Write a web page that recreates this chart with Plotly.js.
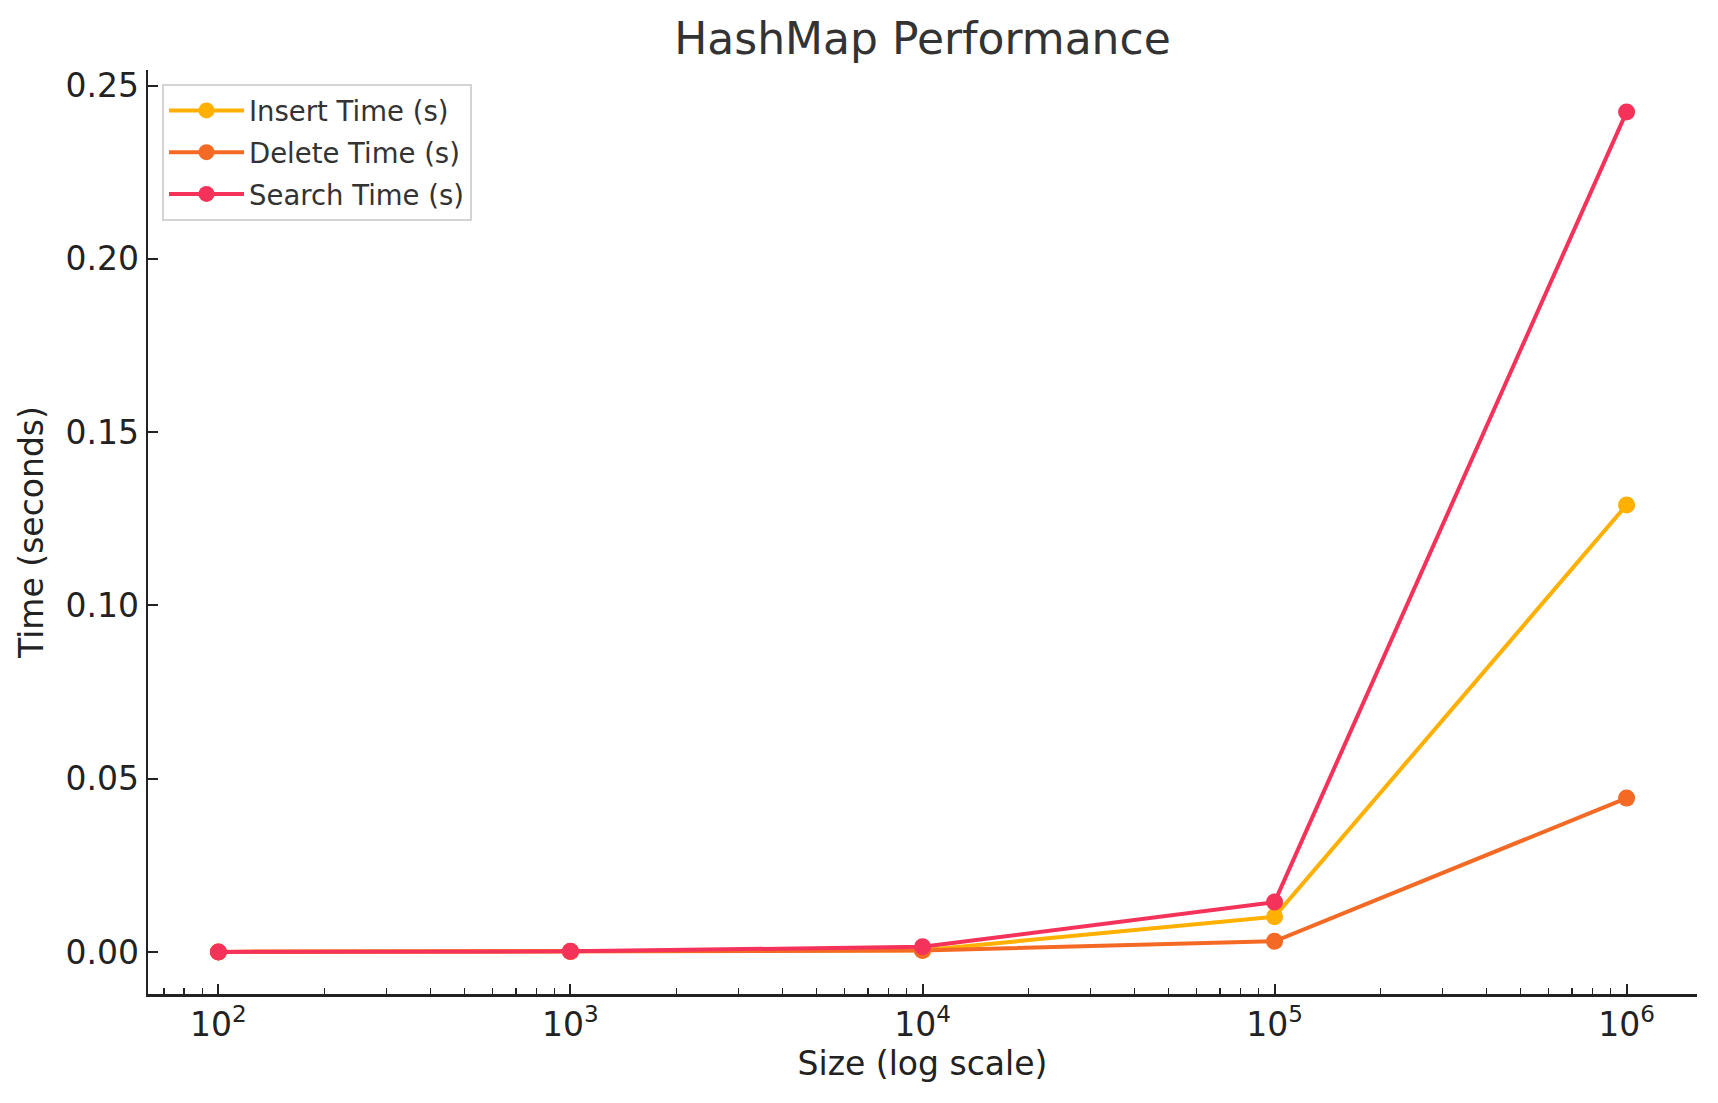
<!DOCTYPE html>
<html>
<head>
<meta charset="utf-8">
<script src="https://cdn.plot.ly/plotly-3.0.1.min.js"></script>
<style>
  html, body { margin: 0; padding: 0; background: #ffffff; }
  #chart { width: 1718px; height: 1103px; }
</style>
</head>
<body>
<div id="chart"></div>
<script>
// ---- Data ----
const sizes = [100, 1000, 10000, 100000, 1000000];
const insertTime = [0.00002, 0.00015, 0.0005, 0.0102, 0.1290];
const deleteTime = [0.00002, 0.00012, 0.0004, 0.0031, 0.0444];
const searchTime = [0.00003, 0.00018, 0.0015, 0.0144, 0.2424];
const seriesNames = ["Insert Time (s)", "Delete Time (s)", "Search Time (s)"];
const seriesColors = ["#FFB000", "#F46A24", "#F5325A"];
const xTickVals = [100, 1000, 10000, 100000, 1000000];
const xTickText = ["10<sup>2</sup>", "10<sup>3</sup>", "10<sup>4</sup>", "10<sup>5</sup>", "10<sup>6</sup>"];

// minor tick positions (2..9 per decade) for the log axis
const minorVals = [];
for (let e = 1; e <= 6; e++) {
  for (let m = 2; m <= 9; m++) minorVals.push(m * Math.pow(10, e));
}

const seriesData = [insertTime, deleteTime, searchTime];
const traces = seriesData.map((ys, i) => ({
  type: "scatter",
  mode: "lines+markers",
  x: sizes,
  y: ys,
  name: seriesNames[i],
  legendgroup: "g" + i,
  line: { color: seriesColors[i], width: 4 },
  marker: { color: seriesColors[i], size: 17 }
}));

const fontFamily = "DejaVu Sans, sans-serif";

const layout = {
  width: 1718,
  height: 1103,
  paper_bgcolor: "#ffffff",
  plot_bgcolor: "#ffffff",
  margin: { l: 148, r: 21, t: 70, b: 109, pad: 0 },
  title: {
    text: "HashMap Performance",
    font: { family: fontFamily, size: 44, color: "#333333" },
    x: 0.5, xref: "paper", xanchor: "center",
    y: 1 - 39 / 1103, yref: "container", yanchor: "middle"
  },
  xaxis: {
    type: "log",
    range: [1.8, 6.2],
    tickvals: xTickVals,
    ticktext: xTickText,
    ticks: "inside",
    ticklen: 10,
    tickwidth: 2,
    tickcolor: "#222222",
    showline: true,
    linecolor: "#222222",
    linewidth: 2.5,
    showgrid: false,
    zeroline: false,
    tickfont: { family: fontFamily, size: 33, color: "#222222" },
    minor: {
      tickvals: minorVals,
      ticks: "inside",
      ticklen: 6,
      tickwidth: 1.6,
      tickcolor: "#222222",
      showgrid: false
    },
    title: {
      text: "Size (log scale)",
      font: { family: fontFamily, size: 33, color: "#222222" },
      standoff: 8
    }
  },
  yaxis: {
    range: [-0.01212, 0.2545],
    tick0: 0,
    dtick: 0.05,
    tickformat: ".2f",
    ticks: "inside",
    ticklen: 10,
    tickwidth: 2,
    tickcolor: "#222222",
    showline: true,
    linecolor: "#222222",
    linewidth: 2.5,
    showgrid: false,
    zeroline: false,
    tickfont: { family: fontFamily, size: 33, color: "#222222" },
    title: {
      text: "Time (seconds)",
      font: { family: fontFamily, size: 33, color: "#222222" },
      standoff: 12
    }
  },
  showlegend: true,
  legend: {
    x: (162 - 148) / 1549,
    y: (994 - 84) / 924,
    xanchor: "left",
    yanchor: "top",
    bgcolor: "#ffffff",
    bordercolor: "#d4d4d4",
    borderwidth: 2,
    font: { family: fontFamily, size: 27.5, color: "#333333" },
    itemwidth: 75,
    tracegroupgap: 3
  }
};

Plotly.newPlot("chart", traces, layout, { displayModeBar: false, staticPlot: true });
</script>
</body>
</html>
